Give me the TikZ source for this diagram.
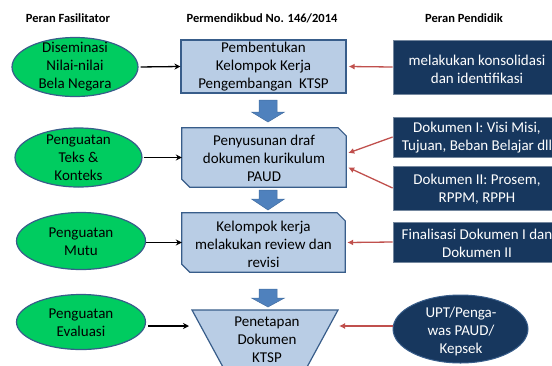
\documentclass[tikz,border=0pt]{standalone}
\usepackage{fontspec}
\setmainfont{Carlito}
\usetikzlibrary{shapes.geometric,arrows.meta}
\definecolor{gfill}{RGB}{0,204,96}
\definecolor{bord}{RGB}{56,93,138}
\definecolor{lblue}{RGB}{185,205,229}
\definecolor{navyc}{RGB}{23,55,94}
\definecolor{arrblue}{RGB}{79,129,189}
\definecolor{redarr}{RGB}{192,80,77}
\tikzset{
 txt/.style={inner sep=0pt, align=center, font=\fontsize{15}{18}\selectfont},
 hdr/.style={inner sep=0pt, font=\fontsize{12.5}{15}\selectfont\bfseries},
 gell/.style={ellipse, draw=bord, line width=1.2pt, fill=gfill, inner sep=0pt},
 nell/.style={ellipse, draw=bord, line width=1pt, fill=navyc, inner sep=0pt},
 lbox/.style={rectangle, draw=bord, line width=1.2pt, fill=lblue, inner sep=0pt},
 ghost/.style={rectangle, inner sep=0pt},
 snip/.style={fill=lblue, draw=bord, line width=1.2pt, line join=miter},
 nbox/.style={rectangle, draw=navyc!60!white, line width=0.8pt, fill=navyc, inner sep=0pt, minimum width=168pt},
 blkar/.style={-{Stealth[length=6pt,width=6pt]}, line width=1.3pt, black},
 redar/.style={-{Latex[length=6pt,width=6pt]}, line width=1.3pt, redarr},
 bigarrow/.style={fill=arrblue, draw=arrblue!85!black, line width=0.5pt},
 trap/.style={fill=lblue, draw=bord, line width=1.2pt}
}
\newcommand\blkarrowat[4]{%
  \draw[bigarrow] (#1-9,#2) -- (#1+9,#2) -- (#1+9,#3) -- (#1+16.5,#3) -- (#1,#4) -- (#1-16.5,#3) -- (#1-9,#3) -- cycle;}
\newcommand\snipbox[1]{%
  \draw[snip] (#1.north west) -- ([xshift=-8pt]#1.north east) -- ([yshift=-8pt]#1.north east) -- (#1.south east) -- ([xshift=8pt]#1.south west) -- ([yshift=8pt]#1.south west) -- cycle;}
\begin{document}
\begin{tikzpicture}[x=1pt,y=-1pt]
\useasboundingbox (0,0) rectangle (552,365);
\clip (0,0) rectangle (552,365);
% headers
\node[hdr] (h1) at (68,18) {Peran Fasilitator};
\node[hdr] (h2) at (262,18) {Permendikbud No. 146/2014};
\node[hdr] (h3) at (464,18) {Peran Pendidik};
% green ellipses
\node[gell, minimum width=126pt, minimum height=59pt] (e1) at (75,67) {};
\node[txt] (e1t) at (e1) {Diseminasi\\Nilai-nilai\\Bela Negara};
\node[gell, minimum width=127pt, minimum height=59pt] (e2) at (78.5,157.5) {};
\node[txt] (e2t) at (e2) {Penguatan\\Teks \&\\Konteks};
\node[gell, minimum width=129pt, minimum height=57pt] (e3) at (81,241) {};
\node[txt] (e3t) at (81,242) {Penguatan\\Mutu};
\node[gell, minimum width=129pt, minimum height=55pt] (e4) at (81,322) {};
\node[txt] (e4t) at (81,323) {Penguatan\\Evaluasi};
% middle column
\node[lbox, minimum width=165pt, minimum height=53pt] (b1) at (263.5,66.5) {};
\node[txt] (b1t) at (263.5,67) {Pembentukan\\Kelompok Kerja\\Pengembangan\ \ KTSP};
\node[ghost, minimum width=164pt, minimum height=59pt] (b2) at (264,157.5) {};
\snipbox{b2}
\node[txt] (b2t) at (264,158) {Penyusunan draf\\dokumen kurikulum\\PAUD};
\node[ghost, minimum width=163pt, minimum height=59pt] (b3) at (263.5,242.5) {};
\snipbox{b3}
\node[txt] (b3t) at (263.5,244) {Kelompok kerja\\melakukan review dan\\revisi};
\draw[trap] (192,310) -- (338,310) -- (300,380) -- (230,380) -- cycle;
\node[txt] (b4t) at (267,340) {Penetapan\\Dokumen\\KTSP};
\coordinate (b4w) at (189,326);
\coordinate (b4e) at (339,326);
% block arrows
\blkarrowat{268}{100}{112}{122}
\blkarrowat{268}{190}{199}{210}
\blkarrowat{268}{289}{298}{307}
% right column
\node[nbox, minimum height=54pt] (r1) at (477,67) {};
\node[txt, text=white] (r1t) at (477,69) {melakukan konsolidasi\\dan identifikasi};
\node[nbox, minimum height=40pt] (r2) at (477,137) {};
\node[txt, text=white] (r2t) at (477,138) {Dokumen I: Visi Misi,\\Tujuan, Beban Belajar dll};
\node[nbox, minimum height=44pt] (r3) at (477,188) {};
\node[txt, text=white] (r3t) at (477,189) {Dokumen II: Prosem,\\RPPM, RPPH};
\node[nbox, minimum height=40pt] (r4) at (477,242) {};
\node[txt, text=white] (r4t) at (477,243) {Finalisasi Dokumen I dan\\Dokumen II};
\node[nell, minimum width=135pt, minimum height=68pt] (r5) at (460.5,329) {};
\node[txt, text=white] (r5t) at (461,331) {UPT/Penga-\\was PAUD/\\Kepsek};
% black arrows
\draw[blkar, shorten <=2pt] (e1.east) -- (b1.west);
\draw[blkar, shorten <=1pt] (e2.east) -- (b2.west);
\draw[blkar] (e3.east |- b3) -- (b3.west);
\draw[blkar, shorten <=2pt] (e4.east |- b4w) -- (b4w);
% red arrows
\draw[redar] (r1.west) -- ([xshift=2pt]b1.east);
\draw[redar] (r2.west) -- ([xshift=2pt,yshift=4.5pt]b2.east);
\draw[redar] (r3.west) -- ([xshift=2pt,yshift=-10pt]b2.east);
\draw[redar] (r4.west) -- ([xshift=2pt]b3.east);
\draw[redar] (r5.west |- b4e) -- (b4e);
\end{tikzpicture}
\end{document}
